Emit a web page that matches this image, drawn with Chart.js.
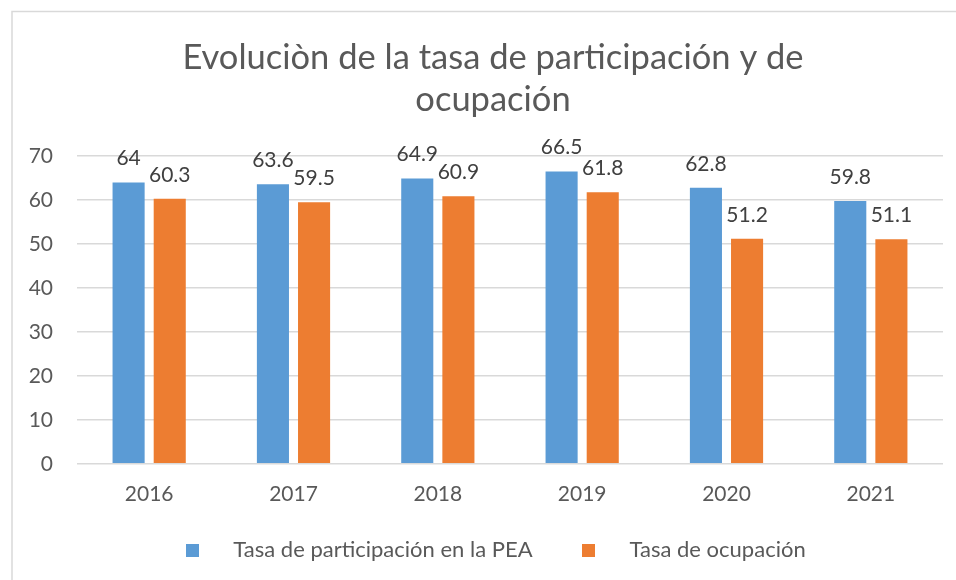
<!DOCTYPE html>
<html>
<head>
<meta charset="utf-8">
<script src="https://cdn.jsdelivr.net/npm/chart.js@4"></script>
<style>
  html, body { margin: 0; padding: 0; background: #fff; }
  #wrap { width: 956px; height: 580px; }
</style>
</head>
<body>
<div id="wrap"><canvas id="myChart" width="956" height="580"></canvas></div>
<script>
const years = ['2016', '2017', '2018', '2019', '2020', '2021'];
const tasaParticipacion = [64, 63.6, 64.9, 66.5, 62.8, 59.8];
const tasaOcupacion = [60.3, 59.5, 60.9, 61.8, 51.2, 51.1];
const seriesNames = ['Tasa de participación en la PEA', 'Tasa de ocupación'];
const seriesColors = ['#5b9bd5', '#ed7d31'];
const yMin = 0, yMax = 70, yStep = 10;

const fontFamily = 'Lato, "Open Sans", sans-serif';
const textColor = '#595959';

// cuadrito de color para la leyenda
function swatch(color) {
    const c = document.createElement('canvas');
    c.width = 13;
    c.height = 13;
    const g = c.getContext('2d');
    g.fillStyle = color;
    g.fillRect(0, 0, 13, 13);
    return c;
}
const swatches = seriesColors.map(swatch);

// marco gris del grafico (solo arriba e izquierda se ven en la imagen)
const frame = {
    id: 'frame',
    beforeDraw(chart) {
        const ctx = chart.ctx;
        ctx.save();
        ctx.fillStyle = '#fff';
        ctx.fillRect(0, 0, chart.width, chart.height);
        ctx.strokeStyle = '#d9d9d9';
        ctx.lineWidth = 1.5;
        ctx.beginPath();
        ctx.moveTo(12, chart.height);
        ctx.lineTo(12, 11.5);
        ctx.lineTo(chart.width, 11.5);
        ctx.stroke();
        ctx.restore();
    },
    // el titulo va un poco a la derecha, como en el original
    afterLayout(chart) {
        if (chart.titleBlock) chart.titleBlock.left += 18;
    }
};

// etiquetas de valor encima de cada barra
const valueLabels = {
    id: 'valueLabels',
    afterDatasetsDraw(chart) {
        const ctx = chart.ctx;
        ctx.save();
        ctx.font = '21px ' + fontFamily;
        ctx.fillStyle = '#404040';
        ctx.textAlign = 'center';
        ctx.textBaseline = 'middle';
        chart.data.datasets.forEach((ds, i) => {
            const meta = chart.getDatasetMeta(i);
            meta.data.forEach((bar, j) => {
                ctx.fillText(String(ds.data[j]), bar.x, bar.y - 24);
            });
        });
        ctx.restore();
    }
};

const data = {
    labels: years,
    datasets: [{
        label: seriesNames[0],
        data: tasaParticipacion,
        backgroundColor: seriesColors[0],
    }, {
        label: seriesNames[1],
        data: tasaOcupacion,
        backgroundColor: seriesColors[1],
    }]
};

const ctx = document.getElementById('myChart').getContext('2d');
const myChart = new Chart(ctx, {
    type: 'bar',
    data: data,
    plugins: [frame, valueLabels],
    options: {
        responsive: false,
        animation: false,
        layout: {
            padding: { left: 25, right: 13, top: 0, bottom: 9 }
        },
        datasets: {
            bar: {
                categoryPercentage: 0.57,
                barPercentage: 0.78
            }
        },
        scales: {
            x: {
                grid: { display: false },
                border: { display: false },
                afterFit(scale) { scale.height -= 4; },
                ticks: {
                    color: textColor,
                    font: { family: fontFamily, size: 21 },
                    padding: 10
                }
            },
            y: {
                min: yMin,
                max: yMax,
                afterFit(scale) { scale.width = 52; },
                border: { display: false },
                grid: {
                    color: '#d9d9d9',
                    lineWidth: 1.5,
                    drawTicks: false
                },
                ticks: {
                    stepSize: yStep,
                    color: textColor,
                    padding: 24,
                    font: { family: fontFamily, size: 21 }
                }
            }
        },
        plugins: {
            title: {
                display: true,
                text: ['Evoluciòn de la tasa de participación y de', 'ocupación'],
                color: textColor,
                font: { family: fontFamily, size: 34.5, weight: 'normal', lineHeight: 1.22 },
                padding: { top: 37, bottom: 35 }
            },
            legend: {
                position: 'bottom',
                labels: {
                    color: textColor,
                    font: { family: fontFamily, size: 22 },
                    usePointStyle: true,
                    pointStyleWidth: 60,
                    boxHeight: 13,
                    padding: 26,
                    generateLabels(chart) {
                        const items = Chart.defaults.plugins.legend.labels.generateLabels(chart);
                        items.forEach((it, i) => { it.pointStyle = swatches[i]; });
                        return items;
                    }
                }
            },
            tooltip: { enabled: false }
        }
    }
});
</script>
</body>
</html>
